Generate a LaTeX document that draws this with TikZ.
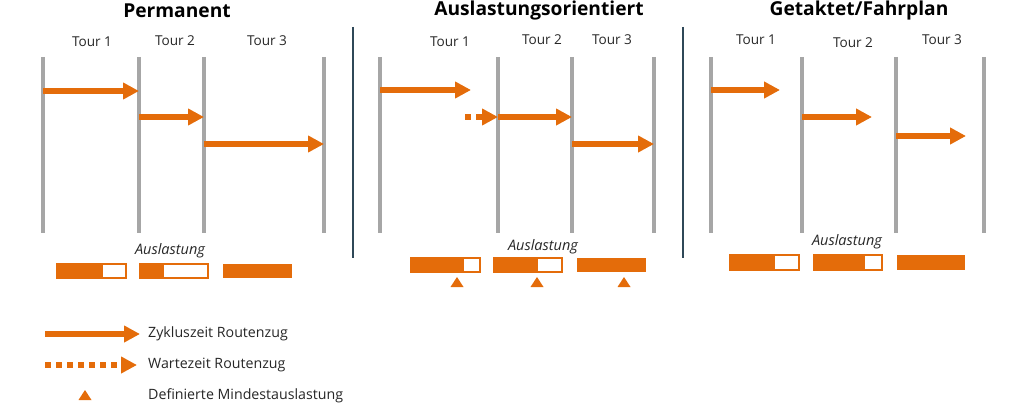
\documentclass[tikz,border=0pt]{standalone}
\usepackage{fontspec}
\setmainfont{Open Sans}
\usetikzlibrary{arrows.meta}
\definecolor{org}{RGB}{228,108,10}
\definecolor{grl}{RGB}{166,166,166}
\definecolor{sep}{RGB}{47,72,88}
\definecolor{txt}{RGB}{38,38,38}
\begin{document}
\begin{tikzpicture}[x=1pt,y=-1pt,
 title/.style={font=\bfseries\fontsize{19.2}{21}\selectfont, text=black},
 tour/.style={font=\fontsize{13.6}{15}\selectfont, text=txt},
 ausl/.style={font=\itshape\fontsize{14.5}{16}\selectfont, text=txt},
 leg/.style={font=\fontsize{14.2}{16}\selectfont, text=txt, anchor=west, inner sep=0pt},
 lane/.style={draw=grl, line width=4pt},
 sepline/.style={draw=sep, line width=1.6pt},
 cyc/.style={draw=org, line width=6pt, -{Triangle[length=16pt,width=16pt]}},
 wait/.style={draw=org, line width=6pt, dash pattern=on 6pt off 5pt, -{Triangle[length=16pt,width=16pt]}},
 barbox/.style={draw=org, line width=1.2pt, fill=white},
 barfill/.style={fill=org},
 mintri/.pic={\fill[org] (-6.5,5)--(6.5,5)--(0,-5)--cycle;}
 ]
\useasboundingbox (0,0) rectangle (1024,404);

% ---------- Titles ----------
\node[title] (t1) at (177,11) {Permanent};
\node[title] (t2) at (539,11) {Auslastungsorientiert};
\node[title] (t3) at (859,11) {Getaktet/Fahrplan};

% ---------- Separators ----------
\coordinate (s1a) at (353,27); \coordinate (s1b) at (353,258);
\coordinate (s2a) at (683,27); \coordinate (s2b) at (683,258);
\draw[sepline] (s1a) -- (s1b);
\draw[sepline] (s2a) -- (s2b);

% ---------- Panel 1: Permanent ----------
\node[tour] (p1t1) at (92,42) {Tour 1};
\node[tour] (p1t2) at (175,41) {Tour 2};
\node[tour] (p1t3) at (267,41) {Tour 3};
\foreach \x/\n in {43/a,139/b,204/c,324/d}{
  \coordinate (p1\n top) at (\x,57); \coordinate (p1\n bot) at (\x,233);
  \draw[lane] (p1\n top) -- (p1\n bot);
}
\coordinate (p1a1) at (43,91);  \coordinate (p1b1) at (139,91);
\coordinate (p1b2) at (139,117); \coordinate (p1c2) at (204,117);
\coordinate (p1c3) at (204,144); \coordinate (p1d3) at (324,144);
\draw[cyc] (p1a1) -- (p1b1);
\draw[cyc] (p1b2) -- (p1c2);
\draw[cyc] (p1c3) -- (p1d3);
\node[ausl] (p1au) at (170,251) {Auslastung};
\draw[barbox] (57,264) rectangle (126,278);
\fill[barfill] (57,264) rectangle (103,278);
\draw[barbox] (140,264) rectangle (208,278);
\fill[barfill] (140,264) rectangle (164,278);
\fill[barfill] (223,264) rectangle (292,278);

% ---------- Panel 2: Auslastungsorientiert ----------
\node[tour] (p2t1) at (450,42) {Tour 1};
\node[tour] (p2t2) at (542,40) {Tour 2};
\node[tour] (p2t3) at (612,40) {Tour 3};
\foreach \x/\n in {380/a,498/b,572/c,654/d}{
  \coordinate (p2\n top) at (\x,57); \coordinate (p2\n bot) at (\x,233);
  \draw[lane] (p2\n top) -- (p2\n bot);
}
\coordinate (p2a1) at (380,90);  \coordinate (p2e1) at (471,90);
\coordinate (p2w) at (465,117);
\coordinate (p2b2) at (498,117); \coordinate (p2c2) at (572,117);
\coordinate (p2c3) at (572,144); \coordinate (p2d3) at (654,144);
\draw[cyc] (p2a1) -- (p2e1);
\draw[wait] (p2w) -- (p2b2);
\draw[cyc] (p2b2) -- (p2c2);
\draw[cyc] (p2c3) -- (p2d3);
\node[ausl] (p2au) at (543,247) {Auslastung};
\draw[barbox] (411,258) rectangle (480,272);
\fill[barfill] (411,258) rectangle (464,272);
\draw[barbox] (494,258) rectangle (562,272);
\fill[barfill] (494,258) rectangle (538,272);
\fill[barfill] (577,258) rectangle (646,272);
\pic at (457,282) {mintri};
\pic at (537,282) {mintri};
\pic at (624,282) {mintri};

% ---------- Panel 3: Getaktet/Fahrplan ----------
\node[tour] (p3t1) at (756,40) {Tour 1};
\node[tour] (p3t2) at (853,43) {Tour 2};
\node[tour] (p3t3) at (942,40) {Tour 3};
\foreach \x/\n in {711/a,802/b,896/c,984/d}{
  \coordinate (p3\n top) at (\x,57); \coordinate (p3\n bot) at (\x,233);
  \draw[lane] (p3\n top) -- (p3\n bot);
}
\coordinate (p3a1) at (711,90);  \coordinate (p3e1) at (780,90);
\coordinate (p3b2) at (802,117); \coordinate (p3e2) at (872,117);
\coordinate (p3c3) at (896,136); \coordinate (p3e3) at (966,136);
\draw[cyc] (p3a1) -- (p3e1);
\draw[cyc] (p3b2) -- (p3e2);
\draw[cyc] (p3c3) -- (p3e3);
\node[ausl] (p3au) at (847,242) {Auslastung};
\draw[barbox] (730,255) rectangle (799,270);
\fill[barfill] (730,255) rectangle (775,270);
\draw[barbox] (814,255) rectangle (882,270);
\fill[barfill] (814,255) rectangle (865,270);
\fill[barfill] (897,255) rectangle (965,270);

% ---------- Legend ----------
\coordinate (l1a) at (45,334); \coordinate (l1b) at (140,334);
\coordinate (l2a) at (45,365); \coordinate (l2b) at (137,365);
\draw[cyc] (l1a) -- (l1b);
\draw[wait] (l2a) -- (l2b);
\pic at (85,395) {mintri};
\node[leg] (lt1) at (148,334) {Zykluszeit Routenzug};
\node[leg] (lt2) at (148,365) {Wartezeit Routenzug};
\node[leg] (lt3) at (148,396) {Definierte Mindestauslastung};
\end{tikzpicture}
\end{document}
